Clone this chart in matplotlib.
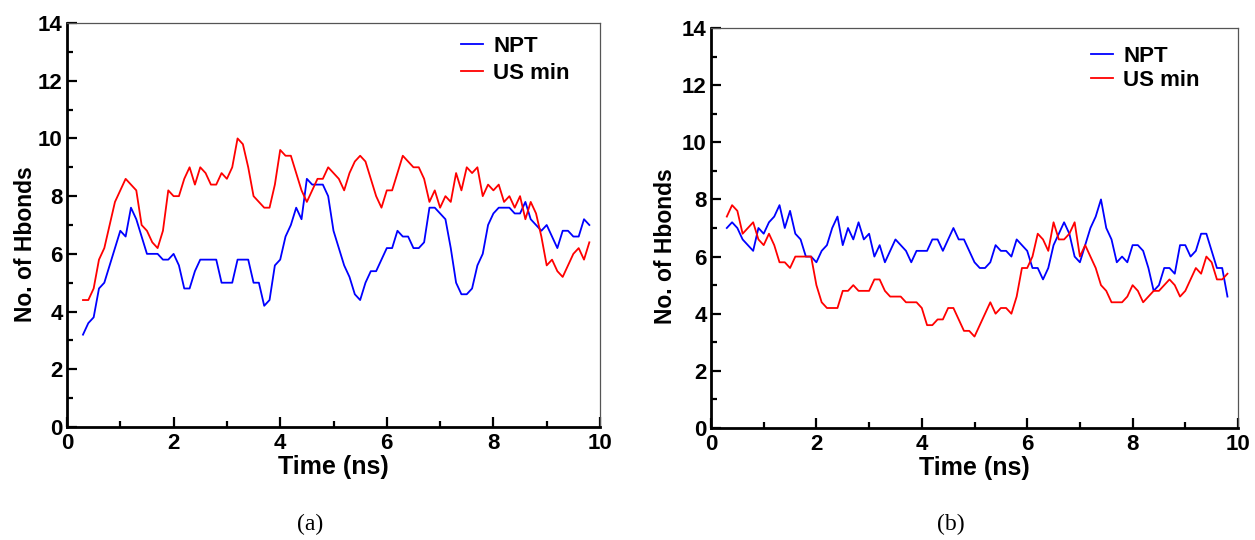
import matplotlib
matplotlib.use("Agg")
import matplotlib.pyplot as plt
from matplotlib.ticker import MultipleLocator
import numpy as np

plt.rcParams['font.family'] = ['Liberation Sans', 'DejaVu Sans']
plt.rcParams['font.weight'] = 'bold'

# time axis: 0.3 .. 9.8 ns, 0.1 ns step (96 points)
time_ns = np.round(np.arange(3, 99) * 0.1, 1)

# panel (a)
npt_a = [3.2, 3.6, 3.8, 4.8, 5.0, 5.6, 6.2, 6.8, 6.6, 7.6, 7.2, 6.6, 6.0, 6.0, 6.0, 5.8, 5.8, 6.0, 5.6, 4.8,
         4.8, 5.4, 5.8, 5.8, 5.8, 5.8, 5.0, 5.0, 5.0, 5.8, 5.8, 5.8, 5.0, 5.0, 4.2, 4.4, 5.6, 5.8, 6.6, 7.0,
         7.6, 7.2, 8.6, 8.4, 8.4, 8.4, 8.0, 6.8, 6.2, 5.6, 5.2, 4.6, 4.4, 5.0, 5.4, 5.4, 5.8, 6.2, 6.2, 6.8,
         6.6, 6.6, 6.2, 6.2, 6.4, 7.6, 7.6, 7.4, 7.2, 6.2, 5.0, 4.6, 4.6, 4.8, 5.6, 6.0, 7.0, 7.4, 7.6, 7.6,
         7.6, 7.4, 7.4, 7.8, 7.2, 7.0, 6.8, 7.0, 6.6, 6.2, 6.8, 6.8, 6.6, 6.6, 7.2, 7.0]
usmin_a = [4.4, 4.4, 4.8, 5.8, 6.2, 7.0, 7.8, 8.2, 8.6, 8.4, 8.2, 7.0, 6.8, 6.4, 6.2, 6.8, 8.2, 8.0, 8.0, 8.6,
           9.0, 8.4, 9.0, 8.8, 8.4, 8.4, 8.8, 8.6, 9.0, 10.0, 9.8, 9.0, 8.0, 7.8, 7.6, 7.6, 8.4, 9.6, 9.4, 9.4,
           8.8, 8.2, 7.8, 8.2, 8.6, 8.6, 9.0, 8.8, 8.6, 8.2, 8.8, 9.2, 9.4, 9.2, 8.6, 8.0, 7.6, 8.2, 8.2, 8.8,
           9.4, 9.2, 9.0, 9.0, 8.6, 7.8, 8.2, 7.6, 8.0, 7.8, 8.8, 8.2, 9.0, 8.8, 9.0, 8.0, 8.4, 8.2, 8.4, 7.8,
           8.0, 7.6, 8.0, 7.2, 7.8, 7.4, 6.6, 5.6, 5.8, 5.4, 5.2, 5.6, 6.0, 6.2, 5.8, 6.4]

# panel (b)
npt_b = [7.0, 7.2, 7.0, 6.6, 6.4, 6.2, 7.0, 6.8, 7.2, 7.4, 7.8, 7.0, 7.6, 6.8, 6.6, 6.0, 6.0, 5.8, 6.2, 6.4,
         7.0, 7.4, 6.4, 7.0, 6.6, 7.2, 6.6, 6.8, 6.0, 6.4, 5.8, 6.2, 6.6, 6.4, 6.2, 5.8, 6.2, 6.2, 6.2, 6.6,
         6.6, 6.2, 6.6, 7.0, 6.6, 6.6, 6.2, 5.8, 5.6, 5.6, 5.8, 6.4, 6.2, 6.2, 6.0, 6.6, 6.4, 6.2, 5.6, 5.6,
         5.2, 5.6, 6.4, 6.8, 7.2, 6.8, 6.0, 5.8, 6.4, 7.0, 7.4, 8.0, 7.0, 6.6, 5.8, 6.0, 5.8, 6.4, 6.4, 6.2,
         5.6, 4.8, 5.0, 5.6, 5.6, 5.4, 6.4, 6.4, 6.0, 6.2, 6.8, 6.8, 6.2, 5.6, 5.6, 4.6]
usmin_b = [7.4, 7.8, 7.6, 6.8, 7.0, 7.2, 6.6, 6.4, 6.8, 6.4, 5.8, 5.8, 5.6, 6.0, 6.0, 6.0, 6.0, 5.0, 4.4, 4.2,
           4.2, 4.2, 4.8, 4.8, 5.0, 4.8, 4.8, 4.8, 5.2, 5.2, 4.8, 4.6, 4.6, 4.6, 4.4, 4.4, 4.4, 4.2, 3.6, 3.6,
           3.8, 3.8, 4.2, 4.2, 3.8, 3.4, 3.4, 3.2, 3.6, 4.0, 4.4, 4.0, 4.2, 4.2, 4.0, 4.6, 5.6, 5.6, 6.0, 6.8,
           6.6, 6.2, 7.2, 6.6, 6.6, 6.8, 7.2, 6.0, 6.4, 6.0, 5.6, 5.0, 4.8, 4.4, 4.4, 4.4, 4.6, 5.0, 4.8, 4.4,
           4.6, 4.8, 4.8, 5.0, 5.2, 5.0, 4.6, 4.8, 5.2, 5.6, 5.4, 6.0, 5.8, 5.2, 5.2, 5.4]

series_labels = ["NPT", "US min"]
panel_labels = ["(a)", "(b)"]

W, H = 1255, 540
fig = plt.figure(figsize=(W / 100, H / 100), dpi=100)
fig.patch.set_facecolor("white")

ax_a = fig.add_axes([67 / W, (H - 427) / H, 533 / W, 404 / H])
ax_b = fig.add_axes([711 / W, (H - 428) / H, 527 / W, 400 / H])


def style(ax, npt, usmin, leg_xy, leg_sp, ylab_xy):
    ax.plot(time_ns, npt, color="#0000ff", lw=1.3, label=series_labels[0])
    ax.plot(time_ns, usmin, color="#ff0000", lw=1.3, label=series_labels[1])
    ax.set_xlim(0, 10)
    ax.set_ylim(0, 14)
    ax.xaxis.set_major_locator(MultipleLocator(2))
    ax.xaxis.set_minor_locator(MultipleLocator(1))
    ax.yaxis.set_major_locator(MultipleLocator(2))
    ax.yaxis.set_minor_locator(MultipleLocator(1))
    ax.tick_params(which="both", direction="in", width=1.6, colors="black",
                   top=False, right=False, labelsize=16)
    ax.tick_params(which="major", length=7, pad=3)
    ax.tick_params(axis="x", which="major", pad=4)
    ax.tick_params(which="minor", length=4)
    for s in ("left", "bottom"):
        ax.spines[s].set_linewidth(2.0)
        ax.spines[s].set_color("black")
    for s in ("top", "right"):
        ax.spines[s].set_linewidth(0.9)
        ax.spines[s].set_color("#555555")
    ax.set_xlabel("Time (ns)", fontsize=18, fontweight="bold", labelpad=1)
    ax.set_ylabel("No. of Hbonds", fontsize=16.5, fontweight="bold")
    ax.yaxis.set_label_coords(*ylab_xy)
    ax.legend(loc="upper left", bbox_to_anchor=leg_xy, frameon=False, fontsize=16,
              handlelength=1.0, handletextpad=0.45, borderpad=0, borderaxespad=0,
              labelspacing=leg_sp)


style(ax_a, npt_a, usmin_a, ((461 - 67) / 533, (427 - 36) / 404), 0.28,
      ((37 - 67) / 533, (427 - 244) / 404))
style(ax_b, npt_b, usmin_b, ((1091 - 711) / 527, (428 - 46) / 400), 0.12,
      ((677 - 711) / 527, (428 - 246) / 400))

fig.text(310 / W, 1 - 524 / H, panel_labels[0], ha="center", va="center",
         family="Liberation Serif", fontweight="normal", fontsize=17)
fig.text(951 / W, 1 - 524 / H, panel_labels[1], ha="center", va="center",
         family="Liberation Serif", fontweight="normal", fontsize=17)

fig.savefig("out.png", dpi=100, facecolor="white")
